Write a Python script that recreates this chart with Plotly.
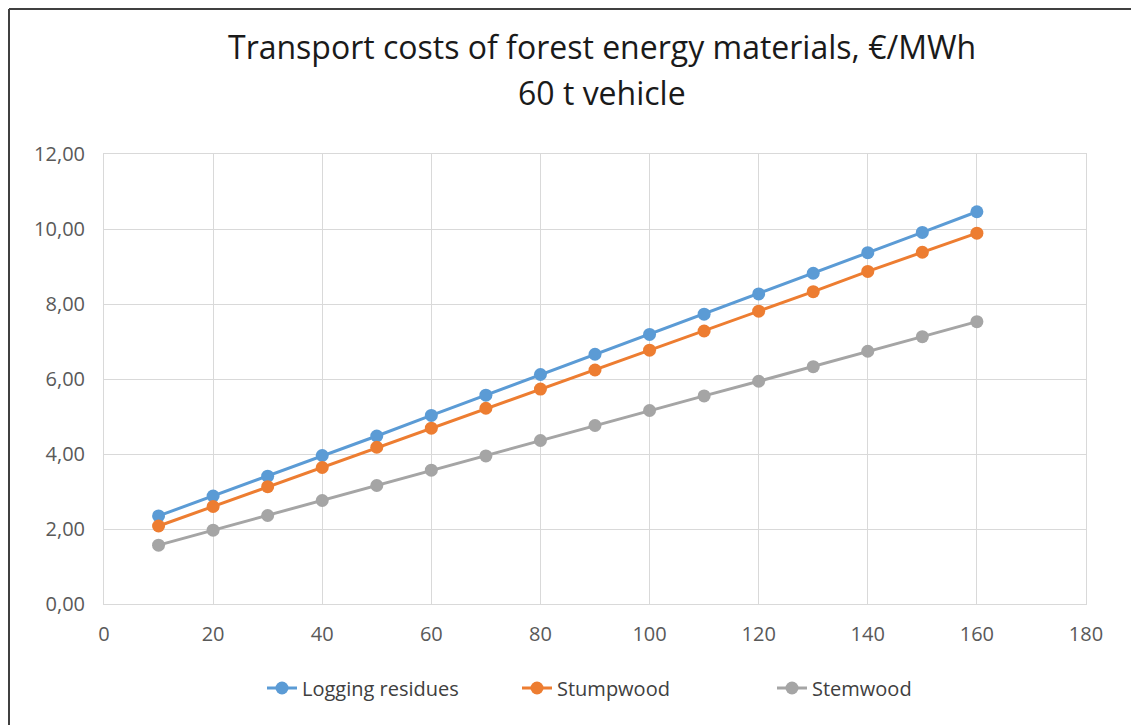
import plotly.graph_objects as go

distance_km = [10, 20, 30, 40, 50, 60, 70, 80, 90, 100, 110, 120, 130, 140, 150, 160]
logging_residues = [2.35, 2.88, 3.41, 3.96, 4.48, 5.03, 5.57, 6.12, 6.66, 7.19, 7.73, 8.27, 8.82, 9.37, 9.91, 10.46]
stumpwood = [2.08, 2.60, 3.13, 3.64, 4.18, 4.69, 5.22, 5.73, 6.24, 6.77, 7.28, 7.81, 8.33, 8.87, 9.38, 9.89]
stemwood = [1.57, 1.97, 2.36, 2.76, 3.16, 3.57, 3.95, 4.36, 4.76, 5.16, 5.55, 5.94, 6.33, 6.74, 7.13, 7.53]

series_names = ["Logging residues", "Stumpwood", "Stemwood"]
series_colors = ["#5b9bd5", "#ed7d31", "#a5a5a5"]
series_values = [logging_residues, stumpwood, stemwood]

title_lines = ["Transport costs of forest energy materials, €/MWh", "60 t vehicle"]

FONT = "Open Sans"

fig = go.Figure()
for name, color, vals in zip(series_names, series_colors, series_values):
    fig.add_trace(go.Scatter(
        x=distance_km, y=vals, name=name, mode="lines+markers",
        line=dict(color=color, width=3),
        marker=dict(color=color, size=13),
    ))

OFF = 8  # default page body margin
W, H = 1139 - OFF, 725 - OFF
ml, mt = 104 - OFF, 154 - OFF
mr = W - (1086 - OFF)
mb = H - (604 - OFF)
pw, ph = W - ml - mr, H - mt - mb

def px(x):
    return (x - OFF - ml) / pw

def py(y):
    return (H - mb - (y - OFF)) / ph

annotations = []
for text, yc in zip(title_lines, [47, 92]):
    annotations.append(dict(
        text=text, xref="paper", yref="paper", x=px(602), y=py(yc),
        xanchor="center", yanchor="middle", showarrow=False,
        font=dict(family=FONT, size=32, color="#1a1a1a"),
    ))

fig.update_layout(
    width=W, height=H,
    margin=dict(l=ml, r=mr, t=mt, b=mb),
    paper_bgcolor="white", plot_bgcolor="white",
    separators=", ",
    font=dict(family=FONT, color="#595959", size=20),
    annotations=annotations,
    xaxis=dict(
        range=[0, 180], dtick=20, tick0=0,
        showgrid=True, gridcolor="#d9d9d9", gridwidth=1,
        showline=True, linecolor="#d9d9d9", linewidth=1, mirror=True,
        zeroline=False, ticks="", ticklen=0, ticklabelstandoff=12,
        tickfont=dict(family=FONT, size=20, color="#595959"),
    ),
    yaxis=dict(
        range=[0, 12], dtick=2, tick0=0, tickformat=".2f",
        showgrid=True, gridcolor="#d9d9d9", gridwidth=1,
        showline=True, linecolor="#d9d9d9", linewidth=1, mirror=True,
        zeroline=False, ticks="", ticklen=0, ticklabelstandoff=14,
        tickfont=dict(family=FONT, size=20, color="#595959"),
    ),
    legend=dict(
        orientation="h", x=px(262), xanchor="left",
        y=py(688), yanchor="middle",
        font=dict(family=FONT, size=20, color="#404040"),
        traceorder="normal",
        entrywidth=210, entrywidthmode="pixels",
    ),
    shapes=[
        dict(type="line", xref="paper", yref="paper", x0=px(9), x1=px(1133), y0=py(9), y1=py(9),
             line=dict(color="#404040", width=2)),
        dict(type="line", xref="paper", yref="paper", x0=px(9), x1=px(9), y0=py(9), y1=py(740),
             line=dict(color="#404040", width=2)),
        dict(type="line", xref="paper", yref="paper", x0=px(1133), x1=px(1133), y0=py(9), y1=py(740),
             line=dict(color="#404040", width=2)),
    ],
)

fig.write_html("out.html")
